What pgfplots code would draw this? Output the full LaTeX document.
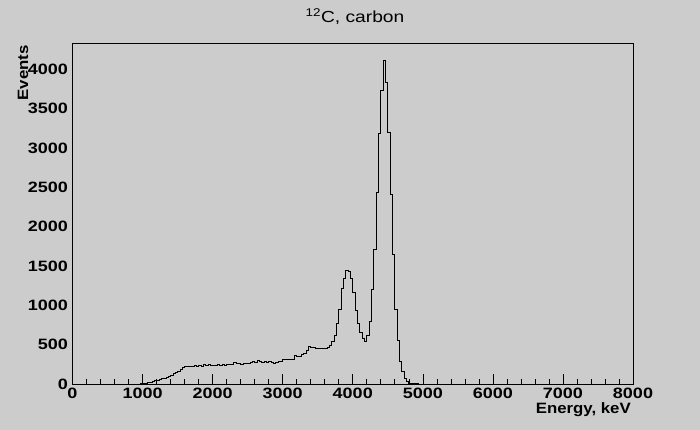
\documentclass[border=0pt]{standalone}
\usepackage{fontspec}
\setmainfont{Liberation Sans}
\newfontfamily\tickfont[FakeStretch=1.2]{Liberation Sans}
\newfontfamily\labfont[FakeStretch=1.12]{Liberation Sans}
\newfontfamily\titfont[FakeStretch=1.2]{Liberation Sans}
\usepackage{pgfplots}
\pgfplotsset{compat=1.18}
\usepackage{pgfplotstable}
\definecolor{bg}{RGB}{204,204,204}

% bin index n (bin width 8000/240 keV), counts
\pgfplotstableread{
n y
0 0
29 2
30 6
31 12
32 18
33 25
34 32
35 42
36 52
37 60
38 68
39 76
40 90
41 102
42 115
43 136
44 150
45 165
46 185
47 205
48 220
49 224
50 225
51 222
52 230
53 226
54 232
55 228
56 245
57 233
58 254
59 238
60 240
61 230
62 244
63 236
64 248
65 240
66 252
67 246
68 250
69 271
70 258
71 262
72 255
73 260
74 258
75 262
76 270
77 283
78 276
79 296
80 290
81 276
82 282
83 280
84 286
85 280
86 263
87 275
88 283
89 290
90 314
91 312
92 316
93 314
94 318
95 368
96 347
97 350
98 381
99 390
100 432
101 483
102 468
103 461
104 453
105 456
106 452
107 455
108 458
109 470
110 496
111 540
112 620
113 771
114 949
115 1216
116 1343
117 1445
118 1425
119 1343
120 1160
121 940
122 771
123 652
124 580
125 538
126 620
127 800
128 1200
129 1712
130 2431
131 3186
132 3736
133 4108
134 3828
135 3198
136 2414
137 1648
138 953
139 550
140 283
141 156
142 72
143 29
144 12
145 6
146 3
147 2
148 1
149 0
150 1
151 0
240 0
}\spectrum

\begin{document}
\begin{tikzpicture}
\path[use as bounding box, fill=bg] (0,0) rectangle (700bp,430bp);
% y ticks (longer)
\begin{axis}[
  at={(72.5bp,46bp)}, anchor=south west, scale only axis,
  width=560.5bp, height=340.3bp,
  xmin=0, xmax=8000, ymin=0, ymax=4324,
  axis line style={draw=none},
  xtick=\empty,
  ytick={0,500,...,4000}, minor y tick num=4, ytick pos=left,
  tick align=inside,
  major tick length=15.7bp, minor tick length=8bp,
  tick style={black, line width=0.6bp},
  scaled ticks=false,
  /pgf/number format/1000 sep={},
  /pgf/number format/assume math mode=true,
  yticklabel style={font=\tickfont\bfseries\fontsize{15bp}{15bp}\selectfont, inner sep=0pt, xshift=-4.5bp},
]
\end{axis}
% frame, x ticks and histogram
\begin{axis}[
  at={(72.5bp,46bp)}, anchor=south west, scale only axis,
  width=560.5bp, height=340.3bp,
  xmin=0, xmax=8000, ymin=0, ymax=4324,
  axis background/.style={fill=bg},
  axis line style={black, line width=0.8bp},
  ytick=\empty,
  xtick={0,1000,...,8000}, minor x tick num=4, xtick pos=bottom,
  tick align=inside,
  major tick length=10bp, minor tick length=5bp,
  tick style={black, line width=0.6bp},
  scaled ticks=false,
  /pgf/number format/1000 sep={},
  /pgf/number format/assume math mode=true,
  xticklabel style={font=\tickfont\bfseries\fontsize{15bp}{15bp}\selectfont, inner sep=0pt, yshift=-4bp},
  clip=true,
]
\addplot[const plot mark left, black, line width=0.8bp, mark=none]
  table[x expr=\thisrow{n}*100/3, y=y]{\spectrum};
\end{axis}
\node[anchor=base east, rotate=90, inner sep=0pt, font=\labfont\bfseries\fontsize{15bp}{15bp}\selectfont]
  at (28bp,385bp) {Events};
\node[anchor=base east, inner sep=0pt, font=\labfont\bfseries\fontsize{15bp}{15bp}\selectfont]
  at (631bp,16.7bp) {Energy, keV};
\node[anchor=base, inner sep=0pt, font=\titfont\fontsize{16bp}{16bp}\selectfont]
  at (355bp,407bp) {\textsuperscript{12}C, carbon};
\end{tikzpicture}
\end{document}
